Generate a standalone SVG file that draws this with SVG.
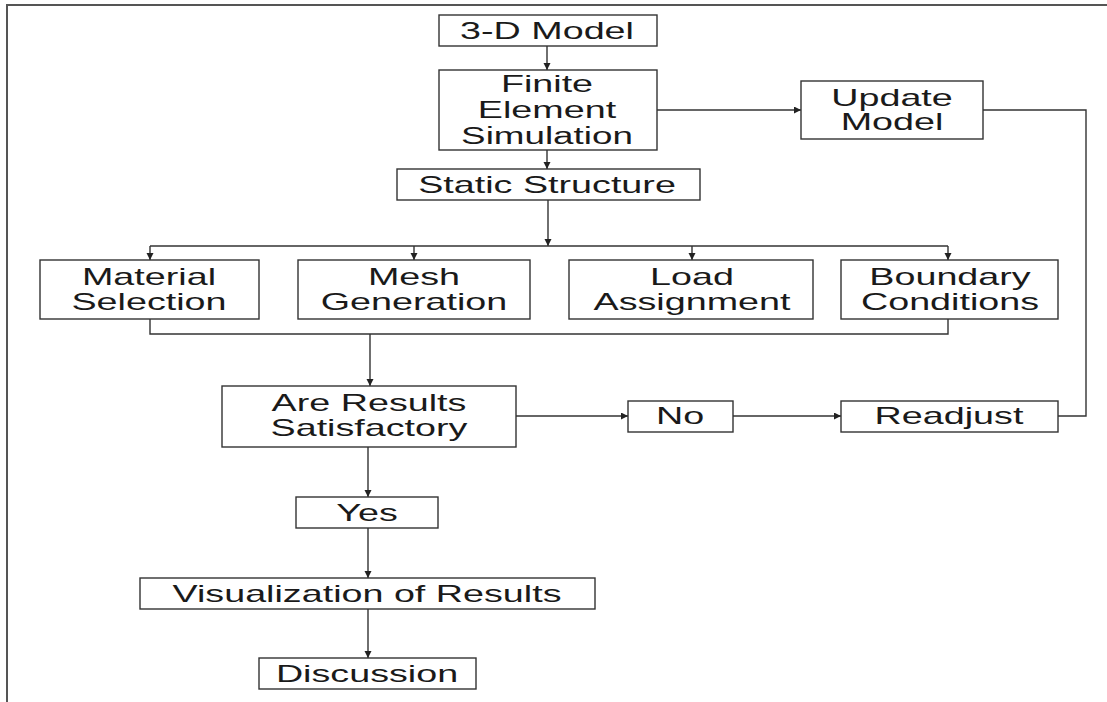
<svg xmlns="http://www.w3.org/2000/svg" width="1107" height="702" viewBox="0 0 1107 702">
<style>
  .box { fill: #ffffff; stroke: #333333; stroke-width: 1.4; }
  .ln { fill: none; stroke: #333333; stroke-width: 1.4; }
  .frame { fill: none; stroke: #555555; stroke-width: 2; }
  text { font-family: "Liberation Sans", Arial, sans-serif; font-size: 23px; fill: #1a1a1a; text-anchor: middle; }
</style>
<defs>
  <marker id="ah" markerUnits="userSpaceOnUse" markerWidth="8" markerHeight="8" refX="7" refY="3.5" orient="auto">
    <path d="M0,0 L7,3.5 L0,7 z" fill="#222222"/>
  </marker>
</defs>
<rect x="0" y="0" width="1107" height="702" fill="#ffffff"/>
<path class="frame" d="M7,702 V5 H1107"/>

<g id="connectors">
  <line class="ln" x1="547" y1="46" x2="547" y2="70" marker-end="url(#ah)"/>
  <line class="ln" x1="547" y1="150" x2="547" y2="169" marker-end="url(#ah)"/>
  <line class="ln" x1="657" y1="110" x2="801" y2="110" marker-end="url(#ah)"/>
  <line class="ln" x1="548" y1="200" x2="548" y2="246" marker-end="url(#ah)"/>
  <line class="ln" x1="150" y1="246" x2="948" y2="246"/>
  <line class="ln" x1="150" y1="246" x2="150" y2="260" marker-end="url(#ah)"/>
  <line class="ln" x1="414" y1="246" x2="414" y2="260" marker-end="url(#ah)"/>
  <line class="ln" x1="692" y1="246" x2="692" y2="260" marker-end="url(#ah)"/>
  <line class="ln" x1="948" y1="246" x2="948" y2="260" marker-end="url(#ah)"/>
  <path class="ln" d="M150,319 V334 H948 V319"/>
  <line class="ln" x1="370" y1="334" x2="370" y2="386" marker-end="url(#ah)"/>
  <line class="ln" x1="516" y1="416" x2="628" y2="416" marker-end="url(#ah)"/>
  <line class="ln" x1="733" y1="416" x2="841" y2="416" marker-end="url(#ah)"/>
  <path class="ln" d="M1058,416 H1086 V110 H983"/>
  <line class="ln" x1="368" y1="447" x2="368" y2="497" marker-end="url(#ah)"/>
  <line class="ln" x1="368" y1="528" x2="368" y2="578" marker-end="url(#ah)"/>
  <line class="ln" x1="368" y1="609" x2="368" y2="658" marker-end="url(#ah)"/>
</g>

<g id="model3d">
  <rect class="box" x="439" y="15" width="218" height="31"/>
  <text transform="translate(547 39) scale(1.64 1)">3-D Model</text>
</g>
<g id="fesim">
  <rect class="box" x="439" y="70" width="218" height="80"/>
  <text transform="translate(547 92) scale(1.64 1)">Finite</text>
  <text transform="translate(547 118) scale(1.64 1)">Element</text>
  <text transform="translate(547 144) scale(1.6 1)">Simulation</text>
</g>
<g id="update">
  <rect class="box" x="801" y="81" width="182" height="58"/>
  <text transform="translate(892 106) scale(1.64 1)">Update</text>
  <text transform="translate(892 130) scale(1.64 1)">Model</text>
</g>
<g id="static">
  <rect class="box" x="397" y="169" width="303" height="31"/>
  <text transform="translate(547 193) scale(1.64 1)">Static Structure</text>
</g>
<g id="material">
  <rect class="box" x="40" y="260" width="219" height="59"/>
  <text transform="translate(149 285) scale(1.64 1)">Material</text>
  <text transform="translate(149 310) scale(1.64 1)">Selection</text>
</g>
<g id="mesh">
  <rect class="box" x="298" y="260" width="232" height="59"/>
  <text transform="translate(414 285) scale(1.64 1)">Mesh</text>
  <text transform="translate(414 310) scale(1.64 1)">Generation</text>
</g>
<g id="load">
  <rect class="box" x="569" y="260" width="244" height="59"/>
  <text transform="translate(692 285) scale(1.64 1)">Load</text>
  <text transform="translate(692 310) scale(1.64 1)">Assignment</text>
</g>
<g id="boundary">
  <rect class="box" x="841" y="260" width="217" height="59"/>
  <text transform="translate(950 285) scale(1.64 1)">Boundary</text>
  <text transform="translate(950 310) scale(1.64 1)">Conditions</text>
</g>
<g id="results">
  <rect class="box" x="222" y="386" width="294" height="61"/>
  <text transform="translate(369 411) scale(1.64 1)">Are Results</text>
  <text transform="translate(369 436) scale(1.64 1)">Satisfactory</text>
</g>
<g id="no">
  <rect class="box" x="628" y="401" width="105" height="31"/>
  <text transform="translate(680 424) scale(1.64 1)">No</text>
</g>
<g id="readjust">
  <rect class="box" x="841" y="401" width="217" height="31"/>
  <text transform="translate(949 424) scale(1.64 1)">Readjust</text>
</g>
<g id="yes">
  <rect class="box" x="296" y="497" width="142" height="31"/>
  <text transform="translate(367 521) scale(1.64 1)">Yes</text>
</g>
<g id="visual">
  <rect class="box" x="140" y="578" width="455" height="31"/>
  <text transform="translate(367 602) scale(1.64 1)">Visualization of Results</text>
</g>
<g id="discussion">
  <rect class="box" x="259" y="658" width="217" height="31"/>
  <text transform="translate(367 682) scale(1.64 1)">Discussion</text>
</g>
</svg>
